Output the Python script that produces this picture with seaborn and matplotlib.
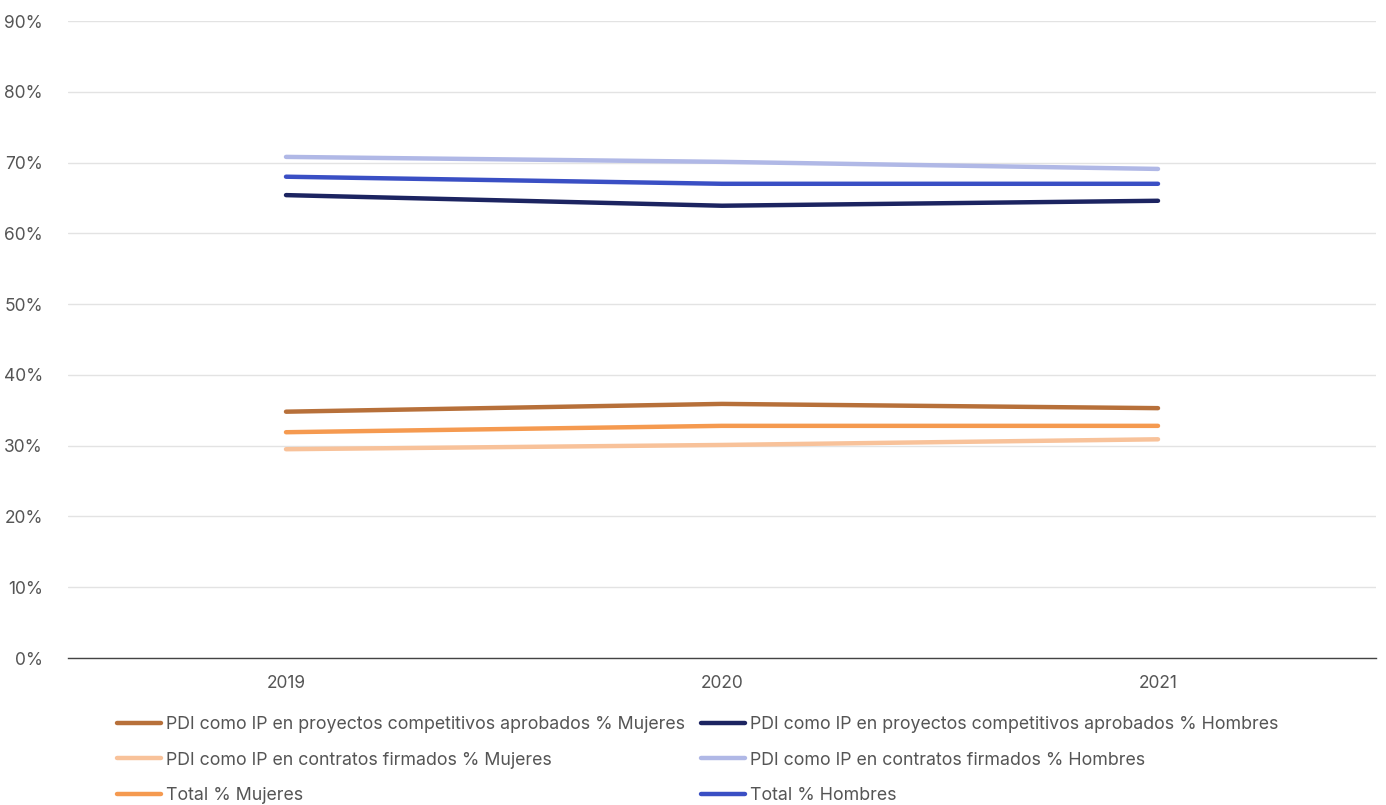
import matplotlib
matplotlib.use("Agg")
import matplotlib.pyplot as plt
import seaborn as sns
import pandas as pd
from matplotlib.lines import Line2D
from matplotlib.ticker import FuncFormatter

years = ["2019", "2020", "2021"]
series_names = [
    "PDI como IP en proyectos competitivos aprobados % Mujeres",
    "PDI como IP en contratos firmados % Mujeres",
    "Total % Mujeres",
    "PDI como IP en proyectos competitivos aprobados % Hombres",
    "PDI como IP en contratos firmados % Hombres",
    "Total % Hombres",
]
proy_mujeres = [34.8, 35.9, 35.3]
contr_mujeres = [29.5, 30.1, 30.9]
total_mujeres = [31.9, 32.8, 32.8]
proy_hombres = [65.4, 63.9, 64.6]
contr_hombres = [70.8, 70.1, 69.1]
total_hombres = [68.0, 67.0, 67.0]
colors = ["#B7703A", "#F8C29A", "#F59A50", "#1C2461", "#B0B8E6", "#3A4FC4"]

values = [proy_mujeres, contr_mujeres, total_mujeres, proy_hombres, contr_hombres, total_hombres]
rows = []
for name, vals in zip(series_names, values):
    for y, v in zip(years, vals):
        rows.append({"year": y, "value": v, "series": name})
df = pd.DataFrame(rows)

sns.set_theme(style="white")
plt.rcParams['font.family'] = ['Inter', 'DejaVu Sans']

fig = plt.figure(figsize=(13.86, 8.05), dpi=100)
ax = fig.add_axes([68/1386, 1-658/805, (1376-68)/1386, (658-21)/805])

palette = dict(zip(series_names, colors))
sns.lineplot(data=df, x="year", y="value", hue="series", hue_order=series_names,
             palette=palette, linewidth=3.2, ax=ax, legend=False, sort=False,
             solid_capstyle="round")

ax.set_xlim(-0.5, 2.5)
ax.set_ylim(0, 90)
ax.set_yticks(range(0, 91, 10))
ax.yaxis.set_major_formatter(FuncFormatter(lambda v, p: f"{int(v)}%"))
ax.grid(axis="y", color="#E3E3E3", linewidth=1)
ax.set_axisbelow(True)
for s in ["top", "right", "left"]:
    ax.spines[s].set_visible(False)
ax.spines["bottom"].set_color("#444444")
ax.spines["bottom"].set_linewidth(1)
ax.tick_params(axis="y", length=0, pad=18, labelsize=12.5, labelcolor="#555555")
ax.tick_params(axis="x", length=0, pad=12, labelsize=12.5, labelcolor="#555555")
ax.set_xlabel("")
ax.set_ylabel("")

handles = [Line2D([0], [0], color=c, linewidth=3.2, solid_capstyle="round") for c in colors]
leg = fig.legend(handles, series_names, ncol=2, loc="upper left",
                 bbox_to_anchor=(117/1386, 1-716/805), frameon=False,
                 fontsize=12.8, labelcolor="#555555", handlelength=2.5,
                 handletextpad=0.25, columnspacing=0.9, labelspacing=1.05,
                 borderaxespad=0, borderpad=0)

fig.savefig("out.png", dpi=100)
